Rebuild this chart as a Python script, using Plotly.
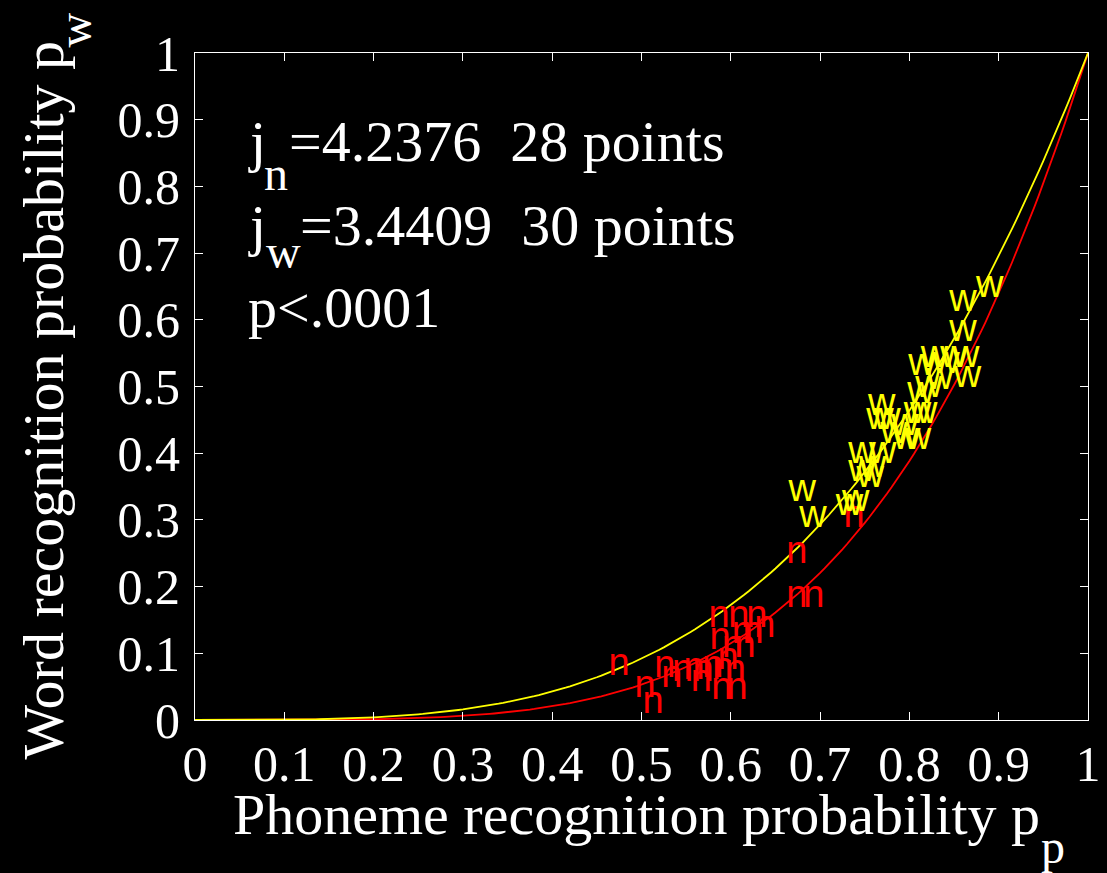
import numpy as np
import plotly.graph_objects as go

# Fitted exponents
j_n = 4.2376
j_w = 3.4409

# Nonsense-word ("n") points: phoneme prob, word prob
n_pp = [0.475, 0.504, 0.513, 0.526, 0.534, 0.546, 0.559, 0.567, 0.569, 0.580,
        0.591, 0.605, 0.590, 0.607, 0.587, 0.609, 0.629, 0.588, 0.602, 0.613,
        0.616, 0.625, 0.638, 0.674, 0.674, 0.693, 0.738, 0.597]
n_pw = [0.082, 0.049, 0.025, 0.079, 0.064, 0.073, 0.075, 0.057, 0.072, 0.078,
        0.075, 0.072, 0.045, 0.045, 0.154, 0.154, 0.153, 0.121, 0.108, 0.129,
        0.108, 0.129, 0.138, 0.250, 0.184, 0.184, 0.303, 0.090]

# Word ("w") points
w_pp = [0.680, 0.692, 0.733, 0.740, 0.747, 0.747, 0.756, 0.769, 0.775, 0.783,
        0.770, 0.797, 0.809, 0.816, 0.813, 0.822, 0.814, 0.828, 0.841, 0.850,
        0.863, 0.865, 0.860, 0.860, 0.890, 0.759, 0.795, 0.834, 0.809, 0.767]
w_pw = [0.342, 0.303, 0.321, 0.327, 0.400, 0.372, 0.363, 0.472, 0.450, 0.430,
        0.400, 0.421, 0.460, 0.460, 0.490, 0.498, 0.532, 0.544, 0.535, 0.544,
        0.544, 0.514, 0.583, 0.627, 0.649, 0.378, 0.442, 0.510, 0.420, 0.450]

tick_vals = [0, 0.1, 0.2, 0.3, 0.4, 0.5, 0.6, 0.7, 0.8, 0.9, 1]
tick_text = ["0", "0.1", "0.2", "0.3", "0.4", "0.5", "0.6", "0.7", "0.8", "0.9", "1"]

pp = np.linspace(0, 1, 201)

serif = "Liberation Serif, Times New Roman, serif"
sans = "Liberation Sans, Arial, sans-serif"

fig = go.Figure()
fig.add_trace(go.Scatter(x=pp, y=pp ** j_n, mode="lines",
                         line=dict(color="#ff0000", width=1.8), hoverinfo="skip"))
fig.add_trace(go.Scatter(x=pp, y=pp ** j_w, mode="lines",
                         line=dict(color="#ffff00", width=1.8), hoverinfo="skip"))
fig.add_trace(go.Scatter(x=n_pp, y=n_pw, mode="text", text=["n"] * len(n_pp),
                         textposition="middle center",
                         textfont=dict(family=sans, size=38, color="#ff0000")))
fig.add_trace(go.Scatter(x=w_pp, y=w_pw, mode="text", text=["w"] * len(w_pp),
                         textposition="middle center",
                         textfont=dict(family=sans, size=38, color="#ffff00")))

axis_common = dict(
    range=[0, 1], tickvals=tick_vals, ticktext=tick_text, automargin=False,
    showgrid=False, zeroline=False, showline=True, linecolor="white", linewidth=1,
    mirror="ticks", ticks="inside", ticklen=8, tickcolor="white", tickwidth=1,
    tickfont=dict(family=serif, size=50, color="white"),
)

fig.update_layout(
    width=1107, height=873,
    paper_bgcolor="black", plot_bgcolor="black",
    showlegend=False,
    margin=dict(l=195, r=19, t=53, b=153),
    xaxis=dict(**axis_common),
    yaxis=dict(**axis_common, ticklabelstandoff=4),
)

title_font = dict(family=serif, size=58, color="white")
sub_font = dict(family=serif, size=48, color="white")

# x-axis title with subscript
fig.add_annotation(x=0.0398, y=-0.1424, xref="paper", yref="paper",
                   xanchor="left", yanchor="middle", showarrow=False,
                   text="Phoneme recognition probability p", font=title_font)
fig.add_annotation(x=0.9448, y=-0.1904, xref="paper", yref="paper",
                   xanchor="left", yanchor="middle", showarrow=False,
                   text="p", font=sub_font)

# y-axis title with subscript
fig.add_annotation(x=-0.1691, y=-0.0615, xref="paper", yref="paper",
                   xanchor="center", yanchor="bottom", showarrow=False, textangle=-90,
                   text="Word recognition probability p", font=title_font)
fig.add_annotation(x=-0.1344, y=1.0352, xref="paper", yref="paper",
                   xanchor="center", yanchor="middle", showarrow=False, textangle=-90,
                   text="w", font=sub_font)

# Stats text
ann_font = dict(family=serif, size=58, color="white")
fig.add_annotation(x=0.0575, y=0.8666, xref="x", yref="y", xanchor="left", yanchor="middle",
                   text="j", showarrow=False, font=ann_font)
fig.add_annotation(x=0.0755, y=0.8186, xref="x", yref="y", xanchor="left", yanchor="middle",
                   text="n", showarrow=False, font=sub_font)
fig.add_annotation(x=0.1035, y=0.8666, xref="x", yref="y", xanchor="left", yanchor="middle",
                   text="=4.2376  28 points", showarrow=False, font=ann_font)

fig.add_annotation(x=0.0575, y=0.742, xref="x", yref="y", xanchor="left", yanchor="middle",
                   text="j", showarrow=False, font=ann_font)
fig.add_annotation(x=0.0778, y=0.703, xref="x", yref="y", xanchor="left", yanchor="middle",
                   text="w", showarrow=False, font=sub_font)
fig.add_annotation(x=0.1158, y=0.742, xref="x", yref="y", xanchor="left", yanchor="middle",
                   text="=3.4409  30 points", showarrow=False, font=ann_font)

fig.add_annotation(x=0.0575, y=0.6177, xref="x", yref="y", xanchor="left", yanchor="middle",
                   text="p&lt;.0001", showarrow=False, font=ann_font)

fig.write_html("out.html")
